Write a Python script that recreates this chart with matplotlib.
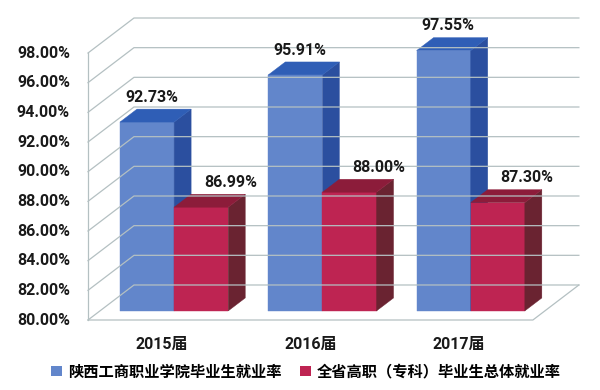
import matplotlib
matplotlib.use("Agg")
import matplotlib.pyplot as plt
from matplotlib.patches import Polygon, Patch

plt.rcParams['font.family'] = ['Roboto', 'Noto Sans CJK SC', 'DejaVu Sans']

# datos
categorias = ["2015届", "2016届", "2017届"]
series = ["陕西工商职业学院毕业生就业率", "全省高职（专科）毕业生总体就业率"]
valores_colegio = [92.73, 95.91, 97.55]
valores_provincia = [86.99, 88.00, 87.30]
yticks = [80, 82, 84, 86, 88, 90, 92, 94, 96, 98]

# colores: frente, lado, techo
colores = [("#6286cb", "#2b4f9f", "#2f5eb6"),
           ("#be2452", "#6a2331", "#8c1c3a")]
grid_color = "#b4c0c2"

# proyeccion oblicua (profundidad)
DX = 0.31      # desplazamiento en x (unidades de categoria)
DY = 2.36      # desplazamiento en y (puntos porcentuales)
y0, y1 = 80, 98
f0, f1 = 0.26, 0.63   # profundidad de las barras
ancho = 0.365
inicio = 0.135

fig = plt.figure(figsize=(6, 3.9), dpi=100)
ax = fig.add_axes([88 / 600, 70 / 390, (3 + DX) * 148.3 / 600, 302 / 390])
ax.set_xlim(0, 3 + DX)
ax.set_ylim(y0, y1 + DY)
ax.axis('off')

n = len(categorias)

# paredes y rejilla
for v in yticks:
    ax.plot([0, DX, n + DX], [v, v + DY, v + DY], color=grid_color, lw=0.9,
            clip_on=False)
ax.plot([0, 0], [y0, y1], color=grid_color, lw=0.9, clip_on=False)
ax.plot([0, n, n + DX], [y0, y0, y0 + DY], color=grid_color, lw=0.9,
        clip_on=False)

for v in yticks:
    ax.annotate(f"{v:.2f}%", (0, v), xytext=(-13, 0), textcoords="offset points",
                ha="right", va="center", fontsize=11.5, fontweight="bold",
                color="#1a1a1a", annotation_clip=False)


def barra3d(x0, v, col):
    x1 = x0 + ancho
    frente, lado, techo = col
    caras = [
        ([(x0 + f0 * DX, y0 + f0 * DY), (x1 + f0 * DX, y0 + f0 * DY),
          (x1 + f0 * DX, v + f0 * DY), (x0 + f0 * DX, v + f0 * DY)], frente),
        ([(x1 + f0 * DX, y0 + f0 * DY), (x1 + f1 * DX, y0 + f1 * DY),
          (x1 + f1 * DX, v + f1 * DY), (x1 + f0 * DX, v + f0 * DY)], lado),
        ([(x0 + f0 * DX, v + f0 * DY), (x1 + f0 * DX, v + f0 * DY),
          (x1 + f1 * DX, v + f1 * DY), (x0 + f1 * DX, v + f1 * DY)], techo),
    ]
    for pts, c in caras:
        ax.add_patch(Polygon(pts, closed=True, facecolor=c, edgecolor=c,
                             lw=0.3, clip_on=False))


desplaz = [-3, 15]
for i in range(n):
    for s, vals in enumerate([valores_colegio, valores_provincia]):
        x0 = i + inicio + s * ancho
        barra3d(x0, vals[i], colores[s])
        xc = x0 + ancho / 2 + (f0 + f1) / 2 * DX
        ax.annotate(f"{vals[i]:.2f}%", (xc, vals[i] + f1 * DY),
                    xytext=(desplaz[s], 3), textcoords="offset points",
                    ha="center", va="bottom", fontsize=11.5, fontweight="bold",
                    color="#1a1a1a", annotation_clip=False)
    ax.annotate(categorias[i], (i + 0.5, y0), xytext=(0, -12),
                textcoords="offset points", ha="center", va="top",
                fontsize=11.5, fontweight="bold", color="#1a1a1a",
                annotation_clip=False)

handles = [Patch(facecolor=colores[0][0]), Patch(facecolor=colores[1][0])]
fig.legend(handles, series, loc="center", bbox_to_anchor=(0.51, 0.046),
           ncol=2, frameon=False, handlelength=0.7,
           handleheight=0.7, handletextpad=0.4, columnspacing=1.2,
           prop={"weight": "bold", "size": 11})

fig.savefig("out.png", dpi=100)
